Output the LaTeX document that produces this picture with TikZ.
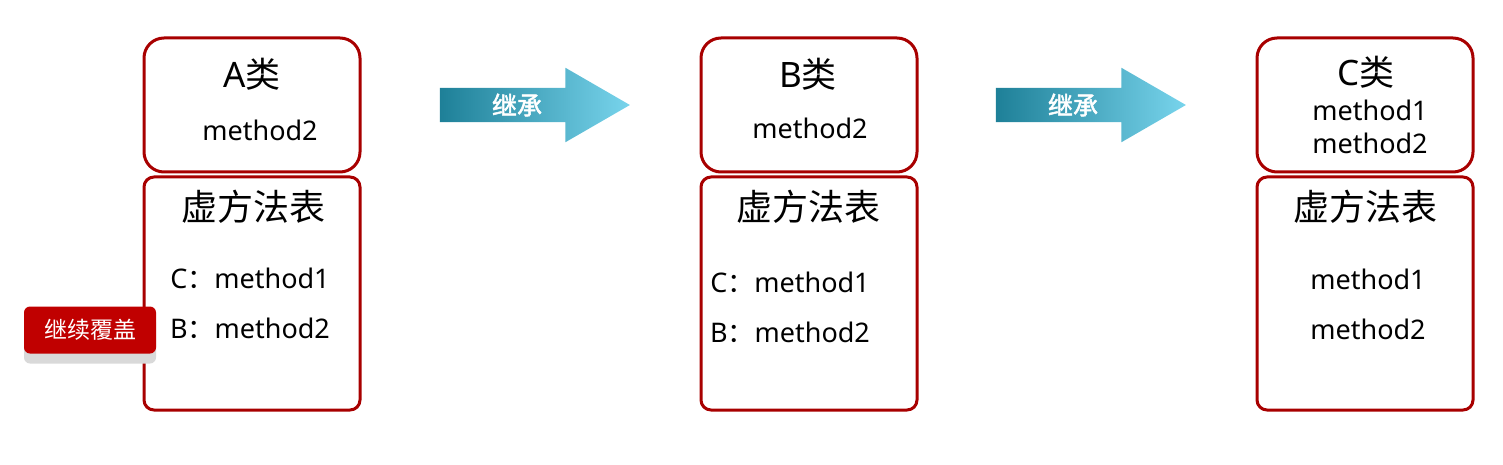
\documentclass[tikz,border=0pt]{standalone}
\usepackage{fontspec}
\setmainfont{Noto Sans}
\newfontfamily\cjk[AutoFakeBold=2]{Noto Sans CJK SC}
\usepackage{xcolor}
\usepackage{tikz}
\usetikzlibrary{arrows.meta, positioning, shapes, shadows}

\definecolor{boxred}{RGB}{168,0,0}
\definecolor{badgered}{RGB}{192,0,0}
\definecolor{arrowdark}{RGB}{30,128,152}
\definecolor{arrowmid}{RGB}{98,196,224}
\definecolor{arrowlight}{RGB}{120,212,236}

\begin{document}
\begin{tikzpicture}[
    x=1pt, y=-1pt,
    node distance=2pt,
    classbox/.style={
        rectangle,
        rounded corners=20pt,
        draw=boxred,
        line width=3pt,
        minimum width=216pt,
        minimum height=134pt
    },
    tablebox/.style={
        rectangle,
        rounded corners=10pt,
        draw=boxred,
        line width=3pt,
        minimum width=216pt,
        minimum height=233pt
    },
    titletext/.style={font=\fontsize{35}{36}\selectfont, inner sep=0pt},
    methodtext/.style={font=\fontsize{27}{33}\selectfont, inner sep=0pt, align=center},
    inharrow/.style={
        single arrow,
        single arrow head extend=20pt,
        single arrow tip angle=60,
        minimum height=190pt,
        inner xsep=0pt,
        inner ysep=17pt,
        left color=arrowdark,
        middle color=arrowmid,
        right color=arrowlight,
        shading angle=90
    },
    inhtext/.style={text=white, font=\cjk\bfseries\fontsize{25}{25}\selectfont},
    badge/.style={
        rectangle,
        rounded corners=6pt,
        fill=badgered,
        text=white,
        minimum width=132pt,
        minimum height=47pt,
        font=\cjk\fontsize{23}{23}\selectfont,
        drop shadow={shadow xshift=0pt, shadow yshift=-10pt, fill=black!15, opacity=1}
    }
]
\useasboundingbox (0,0) rectangle (1503,465);

% class A
\node[classbox] (A) at (252,105) {};
\node[tablebox, below=of A] (Atab) {};
\node[titletext] (Aname) at (252,74) {A{\cjk 类}};
\node[methodtext] (Am) at (260,130) {method2};
\node[titletext] (Atitle) at (253,207) {\cjk\fontsize{36}{36}\selectfont 虚方法表};
\node[methodtext] (Ac) at (250,278) {C{\cjk ：}method1};
\node[methodtext] (Ab) at (250,328) {B{\cjk ：}method2};

% class B
\node[classbox] (B) at (809,105) {};
\node[tablebox, below=of B] (Btab) {};
\node[titletext] (Bname) at (808,74) {B{\cjk 类}};
\node[methodtext] (Bm) at (810,128) {method2};
\node[titletext] (Btitle) at (808,207) {\cjk\fontsize{36}{36}\selectfont 虚方法表};
\node[methodtext] (Bc) at (790,282) {C{\cjk ：}method1};
\node[methodtext] (Bb) at (790,332) {B{\cjk ：}method2};

% class C
\node[classbox] (C) at (1365,105) {};
\node[tablebox, below=of C] (Ctab) {};
\node[titletext] (Cname) at (1366,72) {C{\cjk 类}};
\node[methodtext] (Cm) at (1370,127) {method1\\method2};
\node[titletext] (Ctitle) at (1365,207) {\cjk\fontsize{36}{36}\selectfont 虚方法表};
\node[methodtext] (Cc) at (1368,279) {method1};
\node[methodtext] (Cb) at (1368,329) {method2};

% inheritance arrows
\node[inharrow] (inh1) at (520,105) {};
\node[inhtext] at ([xshift=-3pt]inh1.center) {继承};
\node[inharrow] (inh2) at (1076,105) {};
\node[inhtext] at ([xshift=-3pt]inh2.center) {继承};

% badge
\node[badge] (keep) at (90,330) {继续覆盖};

\end{tikzpicture}
\end{document}
